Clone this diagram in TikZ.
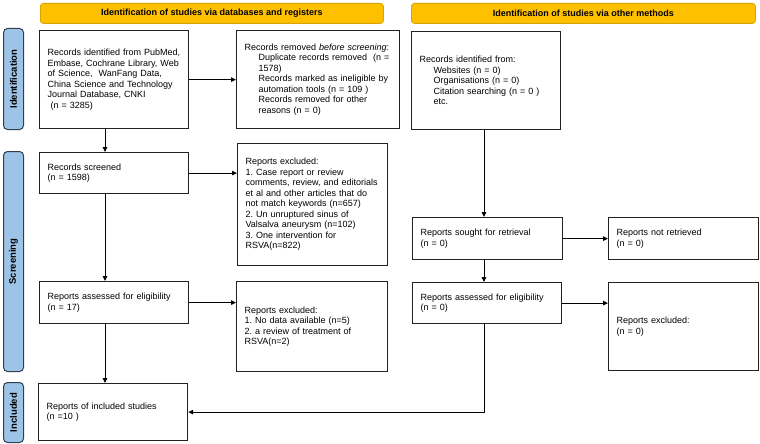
\documentclass[tikz,border=0pt]{standalone}
\usepackage{fontspec}
\setmainfont{Liberation Sans}
\usetikzlibrary{arrows.meta,calc}
\definecolor{hdrfill}{HTML}{FFC000}
\definecolor{hdrline}{HTML}{D9A400}
\definecolor{sidefill}{HTML}{9DC3E6}
\definecolor{sideline}{HTML}{2F3E52}
\definecolor{boxline}{HTML}{222222}
\frenchspacing
\begin{document}
\begin{tikzpicture}[x=1pt,y=-1pt,
  txt/.style={font=\fontsize{9}{10.5}\selectfont\frenchspacing},
  flowbox/.style={draw=boxline, line width=1.2pt, anchor=north west, inner xsep=8pt, inner ysep=0pt, align=left, txt},
  hdr/.style={draw=hdrline, fill=hdrfill, line width=0.8pt, rounded corners=3pt, anchor=north west, inner sep=0pt, font=\fontsize{9}{10.5}\selectfont\bfseries},
  side/.style={draw=sideline, fill=sidefill, line width=1pt, rounded corners=4pt, anchor=north west, inner sep=0pt},
  sidetxt/.style={rotate=90, font=\fontsize{9.5}{11}\selectfont\bfseries},
  arr/.style={draw=black, line width=0.9pt, -{Triangle[length=5pt,width=4.5pt]}},
  ln/.style={draw=black, line width=0.9pt}
]
\useasboundingbox[fill=white] (0,0) rectangle (760,444);

% headers
\node[hdr, minimum width=343pt, minimum height=20pt] (h1) at (40,3) {Identification of studies via databases and registers};
\node[hdr, minimum width=344pt, minimum height=20pt] (h2) at (411,3) {Identification of studies via other methods};

% side labels
\node[side, minimum width=20pt, minimum height=101pt] (s1) at (3,28) {};
\node[sidetxt] (s1t) at (s1.center) {Identification};
\node[side, minimum width=20pt, minimum height=220pt] (s2) at (3,151) {};
\node[sidetxt] (s2t) at (s2.center) {Screening};
\node[side, minimum width=20pt, minimum height=60pt] (s3) at (3,382) {};
\node[sidetxt] (s3t) at (s3.center) {Included};

% left column
\node[flowbox, text width=133pt, minimum height=98pt] (A) at (39,30) {Records identified from PubMed,\\Embase, Cochrane Library, Web\\of Science,\ \ WanFang Data,\\China Science and Technology\\Journal Database, CNKI\\\ (n = 3285)};
\node[flowbox, text width=147pt, minimum height=98pt] (B) at (236,30) {Records removed \textit{before screening}:\\\hspace*{14pt}Duplicate records removed\ \ (n =\\\hspace*{14pt}1578)\\\hspace*{14pt}Records marked as ineligible by\\\hspace*{14pt}automation tools (n = 109 )\\\hspace*{14pt}Records removed for other\\\hspace*{14pt}reasons (n = 0)};
\node[flowbox, text width=133pt, minimum height=41pt] (C) at (39,152) {Records screened\\(n = 1598)};
\node[flowbox, text width=134pt, minimum height=122pt] (D) at (237,143) {Reports excluded:\\1. Case report or review\\comments, review, and editorials\\et al and other articles that do\\not match keywords (n=657)\\2. Un unruptured sinus of\\Valsalva aneurysm (n=102)\\3. One intervention for\\RSVA(n=822)};
\node[flowbox, text width=133pt, minimum height=42pt] (E) at (39,281) {Reports assessed for eligibility\\(n = 17)};
\node[flowbox, text width=135pt, minimum height=90pt] (F) at (236,281) {Reports excluded:\\1. No data available (n=5)\\2. a review of treatment of\\RSVA(n=2)};
\node[flowbox, text width=133pt, minimum height=57pt] (G) at (38,383) {Reports of included studies\\(n =10 )};

% right column
\node[flowbox, text width=133pt, minimum height=98pt] (H) at (411,31) {Records identified from:\\\hspace*{14pt}Websites (n = 0)\\\hspace*{14pt}Organisations (n = 0)\\\hspace*{14pt}Citation searching (n = 0 )\\\hspace*{14pt}etc.};
\node[flowbox, text width=134pt, minimum height=42pt] (I) at (412,217) {Reports sought for retrieval\\(n = 0)};
\node[flowbox, text width=134pt, minimum height=42pt] (J) at (608,217) {Reports not retrieved\\(n = 0)};
\node[flowbox, text width=133pt, minimum height=41pt] (K) at (412,282) {Reports assessed for eligibility\\(n = 0)};
\node[flowbox, text width=134pt, minimum height=88pt] (L) at (608,282) {Reports excluded:\\(n = 0)};

% column coordinates
\coordinate (lx) at (105,0);
\coordinate (rx) at (484,0);

% connectors
\draw[arr] (A.east) -- (B.west);
\draw[arr] (A.south -| lx) -- (C.north -| lx);
\draw[arr] (C.east) -- (C.east -| D.west);
\draw[arr] (C.south -| lx) -- (E.north -| lx);
\draw[arr] (E.east) -- (E.east -| F.west);
\draw[arr] (E.south -| lx) -- (G.north -| lx);
\draw[arr] (H.south -| rx) -- (I.north -| rx);
\draw[arr] (I.east) -- (J.west);
\draw[arr] (I.south -| rx) -- (K.north -| rx);
\draw[arr] (K.east) -- (K.east -| L.west);
\draw[arr] (K.south -| rx) |- (G.east);
\end{tikzpicture}
\end{document}
